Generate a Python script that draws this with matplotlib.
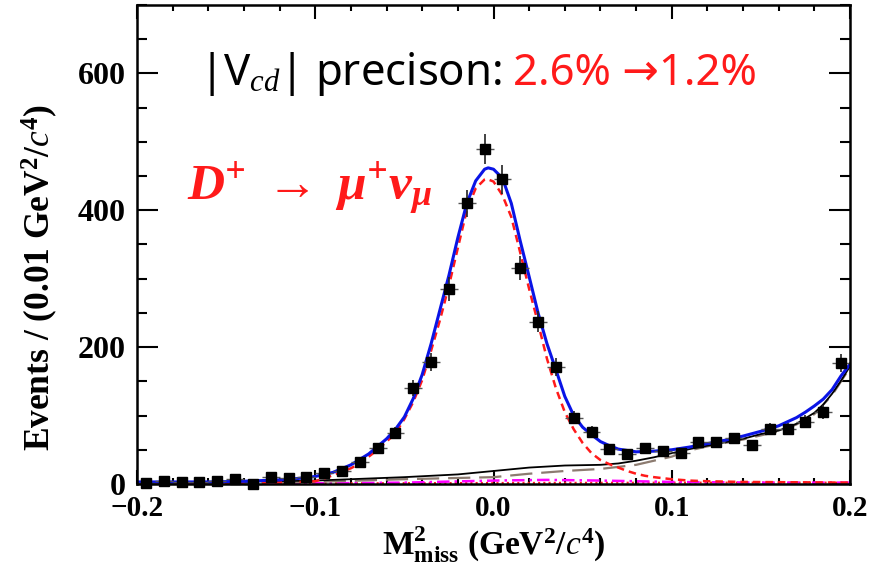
import numpy as np
import matplotlib
matplotlib.use("Agg")
import matplotlib.pyplot as plt

plt.rcParams['mathtext.fontset'] = 'custom'
plt.rcParams['mathtext.rm'] = 'Liberation Serif:bold'
plt.rcParams['mathtext.it'] = 'Liberation Serif:italic'
plt.rcParams['mathtext.bf'] = 'Liberation Serif:bold:italic'

# binned data, 0.01 GeV^2/c^4 bins
bin_centers = np.round(np.arange(-0.195, 0.2, 0.01), 3)
counts = [2, 5, 3, 3, 5, 8, 0, 10, 9, 10,
          16, 19, 32, 53, 75, 140, 178, 285, 410, 490,
          445, 316, 237, 171, 97, 76, 51, 44, 53, 48,
          45, 61, 61, 67, 57, 80, 80, 91, 105, 177]

# total fit (blue)
fit_x = [-0.20, -0.18, -0.16, -0.14, -0.12, -0.11, -0.10, -0.09, -0.08, -0.07,
         -0.06, -0.055, -0.05, -0.045, -0.04, -0.035, -0.03, -0.025, -0.02, -0.015,
         -0.01, -0.005, -0.003, 0.0, 0.005, 0.01, 0.015, 0.02, 0.025, 0.03,
         0.035, 0.04, 0.045, 0.05, 0.055, 0.06, 0.065, 0.07, 0.08, 0.09,
         0.10, 0.11, 0.12, 0.13, 0.14, 0.15, 0.16, 0.17, 0.175, 0.18,
         0.185, 0.19, 0.195, 0.20]
fit_y = [3, 3, 3, 4, 6, 8, 11, 17, 28, 44,
         66, 80, 98, 125, 160, 205, 255, 305, 360, 410,
         443, 460, 462, 460, 447, 410, 355, 303, 250, 205,
         167, 128, 100, 83, 72, 62, 56, 51, 47, 48,
         50, 54, 59, 64, 70, 77, 85, 97, 105, 114,
         124, 138, 158, 175]

# signal shape (red dashed)
sig_x = [-0.20, -0.15, -0.12, -0.10, -0.095, -0.09, -0.085, -0.08, -0.075, -0.07,
         -0.065, -0.06, -0.055, -0.05, -0.045, -0.04, -0.035, -0.03, -0.025, -0.02,
         -0.015, -0.01, -0.005, -0.004, 0.0, 0.005, 0.01, 0.015, 0.02, 0.025,
         0.03, 0.035, 0.04, 0.045, 0.05, 0.055, 0.06, 0.065, 0.07, 0.075,
         0.08, 0.085, 0.09, 0.10, 0.11, 0.12, 0.14, 0.20]
sig_y = [1, 1, 2, 4, 8, 13, 18, 23, 30, 40,
         50, 62, 74, 95, 120, 152, 195, 240, 290, 345,
         400, 432, 445, 446, 442, 422, 390, 338, 285, 235,
         183, 140, 105, 80, 60, 45, 35, 29, 24, 19,
         15, 12, 10, 7, 5, 4, 3, 2]

# total background (black solid)
bkg_x = [-0.20, -0.15, -0.10, -0.05, -0.02, 0.0, 0.02, 0.04, 0.06, 0.07,
         0.08, 0.09, 0.10, 0.11, 0.12, 0.13, 0.14, 0.15, 0.16, 0.17,
         0.175, 0.18, 0.185, 0.19, 0.195, 0.20]
bkg_y = [2, 3, 5, 10, 14, 19, 24, 27, 28, 30,
         34, 39, 45, 51, 56, 61, 66, 73, 78, 88,
         96, 104, 116, 132, 151, 172]

# peaking background component (brown long dash)
pk_x = [-0.20, -0.15, -0.10, -0.05, 0.0, 0.02, 0.04, 0.06, 0.08, 0.10,
        0.11, 0.12, 0.13, 0.14, 0.15, 0.16, 0.17, 0.18, 0.19, 0.20]
pk_y = [0, 1, 3, 7, 10, 15, 19, 22, 28, 40,
        49, 55, 60, 65, 71, 77, 87, 102, 130, 170]

# small components (magenta dash-dot, red dotted)
oth_x = [-0.20, -0.10, -0.05, 0.0, 0.03, 0.06, 0.10, 0.15, 0.20]
oth_y = [0, 1, 2, 5, 6, 5, 3, 2, 2]
tail_x = [-0.20, -0.10, 0.0, 0.10, 0.20]
tail_y = [0.5, 1, 1.5, 2, 2]

fig = plt.figure(figsize=(8.74, 5.67), dpi=100)
ax = fig.add_axes([0.1568, 0.1464, 0.8157, 0.8448])

ax.plot(tail_x, tail_y, color='#ff2020', lw=1.5, ls=(0, (1, 1.5)))
ax.plot(oth_x, oth_y, color='magenta', lw=1.8, ls=(0, (5, 2, 1, 2)))
ax.plot(pk_x, pk_y, color='#8c7b70', lw=1.6, ls=(0, (10, 4)))
ax.plot(bkg_x, bkg_y, color='black', lw=1.3)
ax.plot(sig_x, sig_y, color='#ff1a1a', lw=1.8, ls=(0, (3, 2)))
ax.plot(fit_x, fit_y, color='#0a14e6', lw=2.2)

err = np.sqrt(counts)
ax.errorbar(bin_centers, counts, xerr=0.005, fmt='none', ecolor='#555555',
            elinewidth=1.0, capsize=0, clip_on=False)
ax.errorbar(bin_centers, counts, yerr=err, fmt='s', color='black', ms=7,
            ecolor='#222222', elinewidth=1.2, capsize=0, clip_on=False, zorder=5)

ax.set_xlim(-0.2, 0.2)
ax.set_ylim(0, 700)
ax.set_xticks([-0.2, -0.1, 0.0, 0.1, 0.2])
ax.set_xticklabels(['\u22120.2', '\u22120.1', '0.0', '0.1', '0.2'])
ax.set_xticks(np.arange(-0.2, 0.201, 0.02), minor=True)
ax.set_yticks([0, 200, 400, 600])
ax.set_yticks(np.arange(0, 701, 50), minor=True)

for lab in ax.get_xticklabels():
    lab.set_fontfamily('Liberation Serif')
    lab.set_fontweight('bold')
    lab.set_fontsize(21)
for lab in ax.get_yticklabels():
    lab.set_fontfamily('Liberation Serif')
    lab.set_fontweight('bold')
    lab.set_fontsize(23)

ax.tick_params(which='both', direction='in', top=True, right=True, width=1.5)
ax.tick_params(axis='y', which='major', length=15, pad=8)
ax.tick_params(axis='y', which='minor', length=7.5)
ax.tick_params(axis='x', which='major', length=10, pad=8)
ax.tick_params(axis='x', which='minor', length=4.5)
for sp in ax.spines.values():
    sp.set_linewidth(1.8)

ax.set_ylabel('Events / (0.01 GeV$^{2}$/$c^{4}$)', fontfamily='Liberation Serif',
              fontweight='bold', fontsize=25.5)
ax.yaxis.set_label_coords(-0.108, 0.432)
ax.set_xlabel(r'$\mathrm{M}^{2}_{\mathrm{miss}}$ (GeV$^{2}$/$c^{4}$)',
              fontfamily='Liberation Serif', fontweight='bold', fontsize=24)
ax.xaxis.set_label_coords(0.5, -0.085)

# headline: black part then red part
head_font = ['Noto Sans', 'DejaVu Sans']
t1 = ax.text(0.087, 0.833, '|V$_{cd}$| precison:', transform=ax.transAxes,
             fontsize=31.5, family=head_font, color='black',
             ha='left', va='baseline')
fig.canvas.draw()
bb = t1.get_window_extent(fig.canvas.get_renderer())
x_red = ax.transAxes.inverted().transform((bb.x1, bb.y0))[0] + 0.016
ax.text(x_red, 0.833, '2.6% \u21921.2%', transform=ax.transAxes,
        fontsize=31.5, family=head_font, color='#ff1a1a',
        ha='left', va='baseline')

ax.text(0.070, 0.592, r'$\mathbf{D^{+}\ \rightarrow\ \mu^{+}\nu_{\mu}}$',
        transform=ax.transAxes, fontsize=37, color='#ff1a1a',
        ha='left', va='baseline')

fig.savefig('out.png', dpi=100)
